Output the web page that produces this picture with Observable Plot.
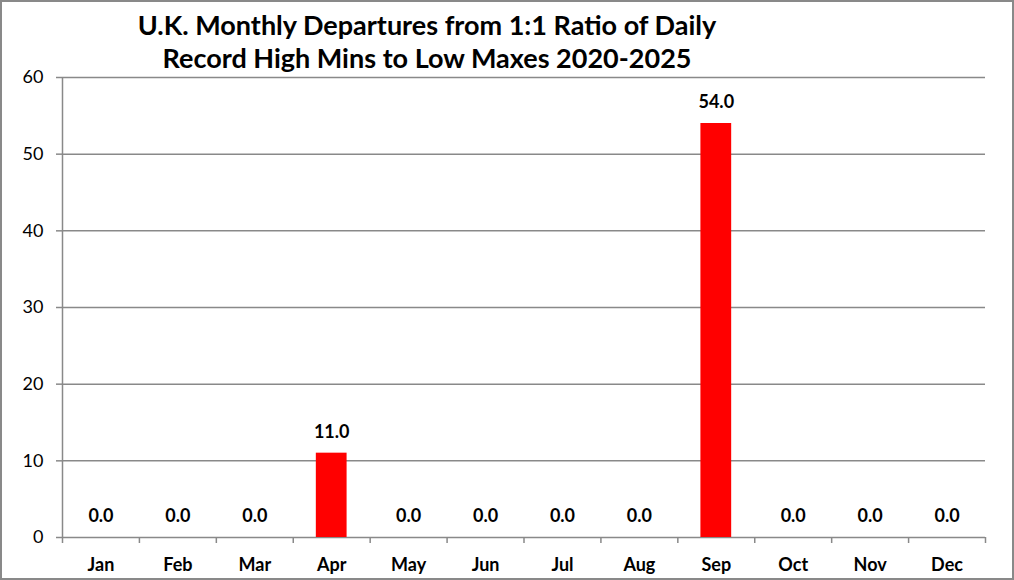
<!DOCTYPE html>
<html>
<head>
<meta charset="utf-8">
<script src="https://cdn.jsdelivr.net/npm/d3@7"></script>
<script src="https://cdn.jsdelivr.net/npm/@observablehq/plot@0.6"></script>
<style>
  html, body { margin: 0; padding: 0; background: #fff; }
  #frame { width: 1014px; height: 580px; box-sizing: border-box; border: 2px solid #898989; background: #fff; overflow: hidden; }
  #title { height: 60px; box-sizing: border-box; padding-right: 160px; padding-top: 6px; text-align: center;
           font-family: Lato, "Open Sans", sans-serif; font-weight: bold; font-size: 27px; line-height: 33px; color: #000; white-space: nowrap; }
  #chart svg { display: block; }
</style>
</head>
<body>
<div id="frame">
  <div id="title">U.K. Monthly Departures from 1:1 Ratio of Daily<br>Record High Mins to Low Maxes 2020-2025</div>
  <div id="chart"></div>
</div>
<script>
const months = ["Jan","Feb","Mar","Apr","May","Jun","Jul","Aug","Sep","Oct","Nov","Dec"];
const values = [0, 0, 0, 11, 0, 0, 0, 0, 54, 0, 0, 0];
const yTicks = [0, 10, 20, 30, 40, 50, 60];

const data = months.map((m, i) => ({month: m, value: values[i]}));

const W = 1010, H = 514, ML = 60, MR = 27, MT = 15, MB = 39;
const halfStep = (W - ML - MR) / months.length / 2;
const grid = "#898989";
const font = "Lato, 'Open Sans', sans-serif";

const chart = Plot.plot({
  width: W, height: H,
  marginLeft: ML, marginRight: MR, marginTop: MT, marginBottom: MB,
  style: {fontFamily: font, color: "#000", background: "#fff"},
  x: {domain: months, paddingInner: 0.6, paddingOuter: 0.3, round: false, axis: null},
  y: {domain: [0, 60], axis: null},
  marks: [
    Plot.ruleY(yTicks, {stroke: grid, strokeWidth: 1.5}),
    // left axis line
    Plot.ruleX([months[0]], {dx: -halfStep, y1: 0, y2: 60, stroke: grid, strokeWidth: 1.5}),
    // category separator ticks below baseline
    Plot.ruleX(months, {dx: -halfStep, y1: 0, y2: 0, insetBottom: -6, stroke: grid, strokeWidth: 1.5}),
    Plot.ruleX([months[months.length - 1]], {dx: halfStep, y1: 0, y2: 0, insetBottom: -6, stroke: grid, strokeWidth: 1.5}),
    Plot.barY(data, {x: "month", y: "value", fill: "#ff0000"}),
    Plot.axisY({ticks: yTicks, tickSize: 6, tickPadding: 13, stroke: grid, strokeWidth: 1.5,
                fontSize: 18, label: null, tickFormat: d => String(d)}),
    Plot.text(data, {x: "month", y: "value", text: d => d.value.toFixed(1), dy: -21,
                     lineAnchor: "middle", fontWeight: "bold", fontSize: 18, fill: "#000"}),
    Plot.text(months, {x: d => d, frameAnchor: "bottom", dy: 28, lineAnchor: "middle",
                       fontWeight: "bold", fontSize: 18, fill: "#000"})
  ]
});
document.getElementById("chart").appendChild(chart);
</script>
</body>
</html>
